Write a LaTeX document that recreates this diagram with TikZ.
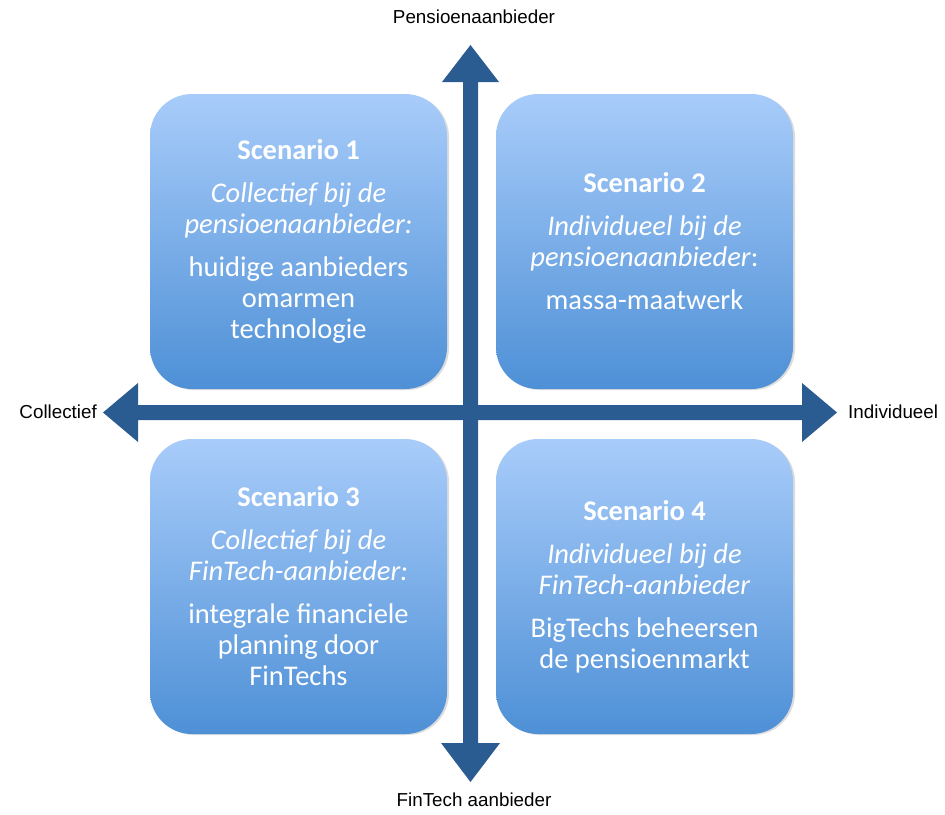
\documentclass[tikz,border=0pt]{standalone}
\usepackage{fontspec}
\setmainfont{Carlito}
\newfontfamily\lblfont{Liberation Sans}
\definecolor{axisblue}{RGB}{43,92,145}
\definecolor{boxtop}{RGB}{168,204,250}
\definecolor{boxbot}{RGB}{78,144,214}
\begin{document}
\begin{tikzpicture}[x=1pt,y=-1pt,
  scenbox/.style={rectangle, rounded corners=42pt, top color=boxtop, bottom color=boxbot,
    draw=none, minimum width=297pt, minimum height=295pt, align=center, text=white,
    font=\fontsize{28.5}{31}\selectfont, inner sep=0pt},
  shadowbox/.style={rectangle, rounded corners=42pt, fill=black!30, opacity=0.45,
    minimum width=297pt, minimum height=295pt, inner sep=0pt},
  lbl/.style={font=\lblfont\fontsize{18.8}{22}\selectfont, text=black, inner sep=0pt}]
\useasboundingbox (0,0) rectangle (945,814);
\fill[white] (0,0) rectangle (945,814);
% shadows
\node[shadowbox] at (300.5,242.5) {};
\node[shadowbox] at (646.5,242.5) {};
\node[shadowbox] at (300.5,587.5) {};
\node[shadowbox] at (646.5,587.5) {};
% boxes
\node[scenbox] (s1) at (298.5,241.5) {\textbf{Scenario 1}\\[12pt]
  \textit{Collectief bij de}\\ \textit{pensioenaanbieder:}\\[12pt]
  huidige aanbieders\\ omarmen\\ technologie};
\node[scenbox] (s2) at (644.5,241.5) {\textbf{Scenario 2}\\[12pt]
  \textit{Individueel bij de}\\ \textit{pensioenaanbieder}:\\[12pt]
  massa-maatwerk};
\node[scenbox] (s3) at (298.5,586.5) {\textbf{Scenario 3}\\[12pt]
  \textit{Collectief bij de}\\ \textit{FinTech-aanbieder:}\\[12pt]
  integrale financiele\\ planning door\\ FinTechs};
\node[scenbox] (s4) at (644.5,586.5) {\textbf{Scenario 4}\\[12pt]
  \textit{Individueel bij de}\\ \textit{FinTech-aanbieder}\\[12pt]
  BigTechs beheersen\\ de pensioenmarkt};
% axes
\fill[axisblue] (470.5,45) -- (499,82) -- (478,82) -- (478,743) -- (500,743)
  -- (470.5,782) -- (441,743) -- (463,743) -- (463,82) -- (442,82) -- cycle;
\fill[axisblue] (103,412.5) -- (138,383) -- (138,405) -- (802,405) -- (802,383)
  -- (837,412.5) -- (802,442) -- (802,420) -- (138,420) -- (138,442) -- cycle;
% labels
\node[lbl] (ltop) at (474,17) {Pensioenaanbieder};
\node[lbl] (lbot) at (474,800) {FinTech aanbieder};
\node[lbl, anchor=east] (lleft) at (97,412) {Collectief};
\node[lbl, anchor=west] (lright) at (848,412) {Individueel};
\end{tikzpicture}
\end{document}
